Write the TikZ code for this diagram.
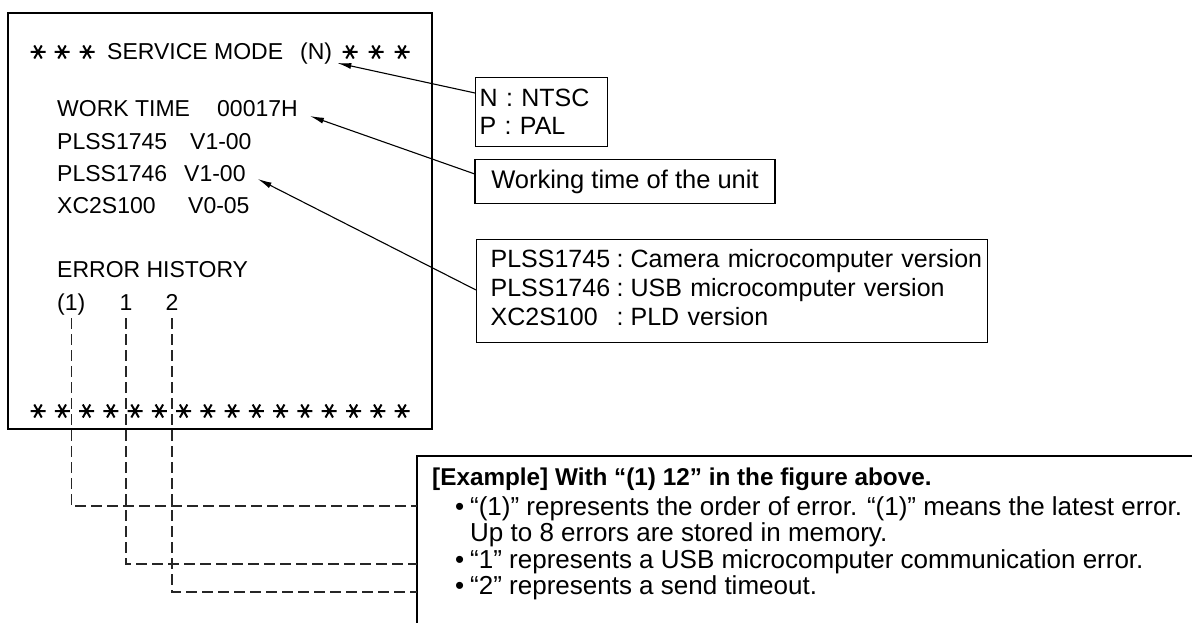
\documentclass[tikz,border=0pt]{standalone}
\usepackage{fontspec}
\setmainfont{Liberation Sans}
\usetikzlibrary{arrows.meta,calc}

\tikzset{
  mainframe/.style={draw=black, line width=2.6pt},
  exframe/.style={draw=black, line width=1.3pt},
  screentext/.style={inner sep=0pt, anchor=base west, font=\fontsize{23}{28}\selectfont},
  labelbox/.style={draw=black, line width=1.3pt, font=\fontsize{25}{28}\selectfont, inner ysep=2pt},
  callout/.style={-{Latex[length=14pt,width=6pt]}, line width=1.1pt},
  guide/.style={dash pattern=on 11pt off 5pt, line width=1.1pt, black!85},
  svcstar/.pic={\draw[line width=2pt] (-7.5,0) -- (7.5,0) (-3.75,-6.5) -- (3.75,6.5) (-3.75,6.5) -- (3.75,-6.5);}
}

\begin{document}
\begin{tikzpicture}[x=1pt, y=-1pt]
  \useasboundingbox (0,0) rectangle (1192,623);
  \draw[mainframe] (8,13) rectangle (432,429);
  \foreach \x in {38,62,87,350,376,402}
    \pic at (\x,52) {svcstar};
  \foreach \i in {0,...,15}
    \pic at ({38+24.27*\i},411) {svcstar};
  \node[screentext] (title) at (107,60) {SERVICE MODE};
  \node[screentext] (modeN) at (300,60) {(N)};
  \node[screentext] (worktime) at (57,117) {\makebox[160pt][l]{WORK TIME}00017H};
  \node[screentext] (plssA) at (57,150) {\makebox[133pt][l]{PLSS1745}V1-00};
  \node[screentext] (plssB) at (57,182) {\makebox[127pt][l]{PLSS1746}V1-00};
  \node[screentext] (xcver) at (57,213) {\makebox[131pt][l]{XC2S100}V0-05};
  \node[screentext] (errhist) at (57,277) {ERROR HISTORY};
  \node[screentext] (errA) at (57,310) {(1)};
  \node[screentext, anchor=base] (errB) at (126,310) {1};
  \node[screentext, anchor=base] (errC) at (172,310) {2};

  \node[labelbox, anchor=north west, align=left, text width=124pt, inner xsep=4pt, minimum height=69pt] (ntsc) at (475,77) {N : NTSC\\P : PAL};
  \node[labelbox, minimum width=300pt, minimum height=44pt, font=\fontsize{25.5}{28}\selectfont] (worklbl) at (625,181.5) {Working time of the unit};
  \node[labelbox, anchor=north west, text width=483pt, inner xsep=14pt, minimum height=103pt] (verlbl) at (476,239) {\fontsize{25}{29}\selectfont\begin{tabular}{@{}l@{\hspace{6.5pt}:\hspace{7pt}}l@{}}PLSS1745 & Camera microcomputer version\\PLSS1746 & USB microcomputer version\\XC2S100 & PLD version\end{tabular}};

  \draw[callout] ($(ntsc.north west)+(0,16)$) -- ($(modeN.base east)+(5,3)$);
  \draw[callout] ($(worklbl.north west)+(0,15)$) -- ($(worktime.base east)+(12,-1)$);
  \draw[callout] ($(verlbl.north west)+(0,51)$) -- ($(plssB.base east)+(12,-3)$);

  \draw[exframe] (1195,456) -- (417,456) -- (417,626);
  \coordinate (exA) at (417,506);
  \coordinate (exB) at (417,564);
  \coordinate (exC) at (417,592);
  \node[screentext, font=\fontsize{24.3}{28}\selectfont\bfseries] (exhead) at (432,485) {[Example] With “(1) 12” in the figure above.};
  \node[screentext, font=\fontsize{26}{26}\selectfont] (exlist) at (455,515) {\begin{tabular}[t]{@{}l@{}l@{}}\makebox[15pt][l]{•} & “(1)” represents the order of error. “(1)” means the latest error.\\ & Up to 8 errors are stored in memory.\\ • & “1” represents a USB microcomputer communication error.\\ • & “2” represents a send timeout.\end{tabular}};

  \draw[guide] ($(errA.base)+(0,8)$) |- (exA);
  \draw[guide] ($(errB.base)+(0,8)$) |- (exB);
  \draw[guide] ($(errC.base)+(0,8)$) |- (exC);
\end{tikzpicture}
\end{document}
